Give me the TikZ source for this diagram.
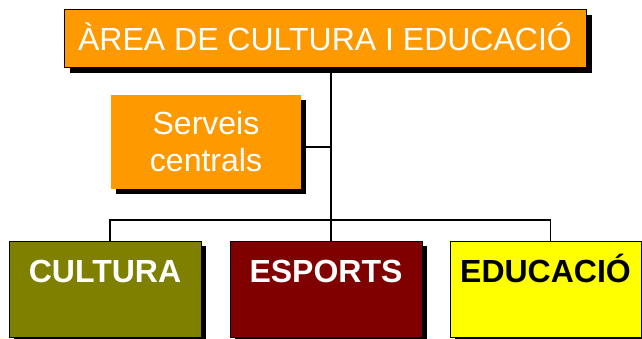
\documentclass[tikz,border=0pt]{standalone}
\usepackage{fontspec}
\setmainfont{Liberation Sans}
\usepackage{xcolor}
\usepackage{tikz}
\usetikzlibrary{shadows,backgrounds}
\definecolor{areaorange}{HTML}{FF9900}
\definecolor{cultolive}{HTML}{808000}
\definecolor{espmaroon}{HTML}{800000}
\definecolor{educyellow}{HTML}{FFFF00}

\begin{document}
\begin{tikzpicture}[x=1pt, y=-1pt,
  unit/.style={rectangle, inner sep=0pt, outer sep=0pt, align=center, font=\fontsize{32}{37}\selectfont},
  castshadow/.style={general shadow={fill=black, shadow xshift=#1, shadow yshift=-#1}},
  dept/.style={unit, draw=black, line width=1pt, castshadow=5pt, minimum width=192pt, text height=41pt, text depth=55pt, font=\fontsize{32}{37}\selectfont\bfseries, anchor=north west},
  link/.style={line width=1.5pt}]
\path[use as bounding box] (0,0) rectangle (642,338);
\clip (0,0) rectangle (642,338);

\node[unit, draw=black, line width=1pt, fill=areaorange, text=white, castshadow=6pt, minimum width=522pt, text height=41pt, text depth=17pt, anchor=north west] (area) at (64,9) {ÀREA DE CULTURA I EDUCACIÓ};
\node[unit, fill=areaorange, text=white, castshadow=5pt, minimum width=190pt, minimum height=94pt, anchor=north west] (serveis) at (111,95) {Serveis\\centrals};

\node[dept, fill=cultolive, text=white] (cultura) at (9,241) {CULTURA};
\node[dept, fill=espmaroon, text=white] (esports) at (230,241) {ESPORTS};
\node[dept, fill=educyellow, text=black, minimum width=191pt] (educacio) at (450,241) {EDUCACIÓ};

\coordinate (junction) at (331,220);

\begin{scope}[on background layer]
\draw[link] ([xshift=6pt]area.south) -- (junction);
\draw[link] ([yshift=-5pt]serveis.east) -- ([yshift=-5pt]serveis.east -| junction);
\draw[link] ([xshift=5pt]cultura.north) |- (junction) -| ([xshift=5pt]educacio.north);
\draw[link] (junction) -- ([xshift=5pt]esports.north);
\end{scope}
\end{tikzpicture}
\end{document}
